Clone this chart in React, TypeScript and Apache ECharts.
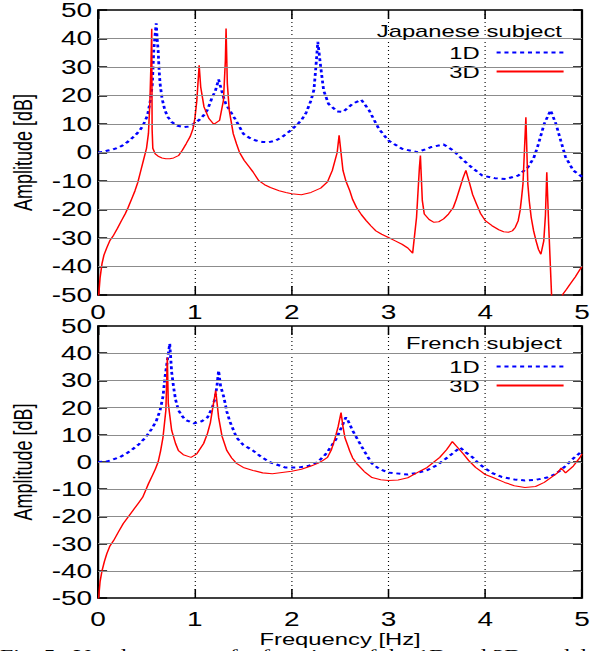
import React, { useEffect, useRef } from "react";
import * as echarts from "echarts";

// ---- data: [frequency in Hz, amplitude in dB] ----
const jp1D: [number, number][] = [[0,0],[0.05,0.2],[0.1,0.7],[0.15,1],[0.2,1.6],[0.25,2.4],[0.3,3.6],[0.35,5],[0.4,6.6],[0.43,7.8],[0.46,9.2],[0.51,13],[0.54,18.3],[0.56,24],[0.575,35.9],[0.585,40],[0.6,45.3],[0.61,40],[0.62,35.9],[0.63,29],[0.64,24.2],[0.66,19],[0.69,14.8],[0.72,12.5],[0.76,10.7],[0.82,9.4],[0.89,8.9],[0.94,9.1],[0.99,10.1],[1.04,11.3],[1.09,13],[1.13,15],[1.18,19.5],[1.21,21.5],[1.245,25.6],[1.27,22.5],[1.295,19.5],[1.32,17],[1.36,14.8],[1.42,11.5],[1.5,6.6],[1.56,5.2],[1.63,4.2],[1.7,3.7],[1.76,3.6],[1.83,4.1],[1.9,5.4],[1.95,6.7],[2.0,8],[2.05,9.6],[2.1,11.3],[2.15,14],[2.2,18.3],[2.23,22],[2.25,30],[2.27,38.8],[2.3,30],[2.33,21.8],[2.38,17.1],[2.47,14.4],[2.53,14.2],[2.63,17.1],[2.72,18.5],[2.8,14.8],[2.9,8.3],[3.0,4.2],[3.14,1.3],[3.3,0.1],[3.44,1.9],[3.57,2.8],[3.67,0.7],[3.77,-2.6],[3.87,-5.5],[3.97,-8.1],[4.1,-9],[4.21,-9.3],[4.34,-8.1],[4.44,-5.2],[4.5,-2],[4.54,1.9],[4.61,10.1],[4.675,14.8],[4.73,10.1],[4.78,4.2],[4.83,-1.6],[4.91,-6.3],[5.0,-8.5]];

const jp3D: [number, number][] = [[0,-58],[0.007,-49.6],[0.02,-44],[0.04,-39],[0.06,-36],[0.09,-33.4],[0.12,-31],[0.16,-29],[0.2,-26.6],[0.24,-24],[0.28,-21.5],[0.31,-19.3],[0.35,-16],[0.38,-13.5],[0.41,-10.5],[0.44,-6.5],[0.47,-2.5],[0.5,1.5],[0.52,6.7],[0.535,18],[0.545,30],[0.554,43.4],[0.558,8],[0.565,1.5],[0.59,-0.5],[0.62,-1.3],[0.66,-1.9],[0.7,-2.2],[0.74,-2.2],[0.78,-1.9],[0.83,-1.1],[0.87,0.8],[0.91,3.1],[0.95,5.5],[0.98,8.3],[1.0,12],[1.02,18.3],[1.044,30.6],[1.06,23],[1.094,16],[1.145,11.9],[1.195,9.9],[1.255,11.3],[1.295,18.3],[1.315,32.4],[1.322,43.5],[1.335,24.2],[1.355,14.8],[1.396,6.6],[1.43,3],[1.46,0.1],[1.51,-2.8],[1.56,-5],[1.6,-6.8],[1.66,-9.9],[1.72,-11.3],[1.78,-12.3],[1.87,-13.4],[1.94,-14],[2.0,-14.5],[2.1,-14.8],[2.2,-14],[2.3,-12.5],[2.37,-10.3],[2.42,-6.3],[2.47,0],[2.49,6],[2.53,-6.3],[2.56,-10],[2.6,-13.4],[2.63,-16.5],[2.67,-19.3],[2.72,-21.8],[2.77,-23.9],[2.82,-25.8],[2.87,-27.5],[2.93,-28.7],[3.0,-29.8],[3.07,-31],[3.14,-32.2],[3.2,-33.5],[3.25,-35.3],[3.29,-22.8],[3.32,-5.2],[3.33,-1.1],[3.35,-16.9],[3.37,-21.6],[3.42,-23.5],[3.47,-24.5],[3.52,-24.3],[3.57,-23.3],[3.62,-21.6],[3.67,-19.3],[3.7,-16.5],[3.74,-12.2],[3.77,-9],[3.8,-6.3],[3.84,-11],[3.87,-14.8],[3.91,-18.1],[3.95,-21.3],[4.0,-23.9],[4.07,-25.7],[4.14,-27.1],[4.19,-27.8],[4.24,-28],[4.28,-27.5],[4.31,-26.3],[4.34,-24],[4.36,-20.4],[4.375,-16],[4.39,-11],[4.42,12.4],[4.44,-11],[4.455,-17],[4.475,-22.8],[4.5,-27.5],[4.525,-31],[4.55,-34],[4.575,-35.7],[4.605,-31],[4.622,-22],[4.636,-6.9],[4.655,-25],[4.685,-49.7],[4.7,-65],[4.78,-65],[4.8,-49.8],[4.84,-48],[4.876,-46.2],[4.93,-43.7],[4.98,-41],[5.0,-40]];

const fr1D: [number, number][] = [[0,0],[0.05,0.1],[0.1,0.3],[0.22,1.7],[0.3,3.3],[0.35,4.5],[0.42,6.5],[0.49,9],[0.55,12],[0.6,15],[0.64,19],[0.67,24],[0.69,31],[0.71,36],[0.74,43.5],[0.76,33],[0.78,27.4],[0.8,23],[0.83,19],[0.87,16.8],[0.9,15.5],[0.99,14.2],[1.07,15],[1.13,16.4],[1.18,20],[1.21,23.7],[1.228,28],[1.245,33.6],[1.265,28],[1.3,23.7],[1.33,18.5],[1.36,15],[1.43,9],[1.5,6.3],[1.6,4.2],[1.68,2],[1.77,0],[1.93,-2],[2.07,-2],[2.17,-1.5],[2.27,0],[2.35,2.8],[2.4,5.3],[2.46,8.5],[2.5,11.6],[2.53,14],[2.56,16.4],[2.585,15],[2.63,11.5],[2.67,9],[2.75,4],[2.83,-0.6],[2.9,-2.4],[3.0,-3.9],[3.2,-4.6],[3.3,-4],[3.4,-3],[3.5,-1.2],[3.57,0.6],[3.65,2.8],[3.7,4.2],[3.74,5.3],[3.8,3.5],[3.87,1.7],[3.93,-0.5],[4.0,-2.4],[4.08,-4.2],[4.17,-5.5],[4.3,-6.4],[4.41,-6.8],[4.53,-6.5],[4.64,-5.7],[4.72,-4.5],[4.78,-3],[4.85,-0.8],[4.91,1.3],[5.0,4]];

const fr3D: [number, number][] = [[0,-58],[0.005,-50],[0.02,-44],[0.04,-40],[0.065,-36.5],[0.09,-33.7],[0.12,-31],[0.16,-28.9],[0.21,-25.7],[0.26,-22.6],[0.31,-20.2],[0.36,-17.8],[0.41,-15.4],[0.46,-13],[0.49,-10.5],[0.52,-8],[0.56,-5],[0.59,-2.7],[0.62,0],[0.645,4],[0.67,9],[0.7,19],[0.715,38.4],[0.725,21.5],[0.76,11.6],[0.8,6.8],[0.83,4.2],[0.88,2.7],[0.96,1.7],[1.02,3],[1.09,6.8],[1.13,10.5],[1.16,14.5],[1.18,19],[1.215,26.3],[1.245,16.4],[1.28,9.5],[1.33,4.2],[1.38,1.5],[1.43,-0.5],[1.5,-2],[1.6,-3.1],[1.7,-4],[1.8,-4.3],[2.0,-3.4],[2.1,-2.7],[2.2,-1.5],[2.27,-0.5],[2.32,0.5],[2.37,1.7],[2.41,4.5],[2.45,9],[2.48,13],[2.51,18.2],[2.53,13],[2.55,9],[2.58,6],[2.6,4],[2.63,1.5],[2.67,-0.5],[2.75,-3.5],[2.83,-5.7],[2.92,-6.5],[3.0,-6.8],[3.1,-6.6],[3.2,-5.8],[3.34,-3.1],[3.4,-2],[3.53,1.7],[3.6,4.5],[3.63,6],[3.66,7.5],[3.71,5.5],[3.77,3.1],[3.83,0.5],[3.9,-2],[3.96,-3.5],[4.0,-4.6],[4.08,-5.7],[4.2,-7.5],[4.3,-8.7],[4.41,-9.4],[4.52,-9],[4.61,-7.5],[4.74,-4.2],[4.785,-2.2],[4.83,-4],[4.91,-1.5],[4.98,1.7],[5.0,3]];

const seriesNames = ["1D", "3D"];
const panelTitles = ["Japanese subject", "French subject"];
const xName = "Frequency [Hz]";
const yName = "Amplitude [dB]";
const xMin = 0, xMax = 5, xStep = 1;
const yMin = -50, yMax = 50, yStep = 10;
const caption = "Fig. 5:  Vocal-tract transfer functions of the 1D and 3D models";

// ---- layout ----
const S = 1.4; // the reference figure is stretched horizontally
const PAGE_W = 594;
const PAGE_H = 651;
const W = PAGE_W / S;
const px = (v: number) => v / S;
const FONT = "'Liberation Sans', Arial, Helvetica, sans-serif";

const innerTicks = (min: number, max: number, step: number) => {
  const out: number[] = [];
  for (let v = min + step; v < max - step / 2; v += step) out.push(Math.round(v * 1e6) / 1e6);
  return out;
};

function buildOption() {
  const grids = [
    { top: 10, height: 285 },
    { top: 326, height: 272 },
  ];
  const grid = grids.map((g) => ({
    left: px(91),
    right: px(5),
    top: g.top,
    height: g.height,
    show: true,
    borderColor: "#000",
    borderWidth: 1.6,
    backgroundColor: "transparent",
  }));

  const tickStyle = (len: number, width: number) => ({
    inside: true,
    length: len,
    lineStyle: { color: "#000", width },
  });

  const xAxis: any[] = [];
  const yAxis: any[] = [];
  grids.forEach((_, i) => {
    xAxis.push({
      gridIndex: i, type: "value", min: xMin, max: xMax, interval: xStep, position: "bottom",
      axisLine: { show: false, onZero: false },
      axisTick: tickStyle(9, 1.1),
      axisLabel: { margin: i === 0 ? 7 : 11, fontSize: 20, color: "#000", fontFamily: FONT },
      splitLine: { show: false },
      name: i === 1 ? xName : "",
      nameLocation: "middle",
      nameGap: 29,
      nameTextStyle: { fontSize: 17, color: "#000", fontFamily: FONT },
    });
    xAxis.push({
      gridIndex: i, type: "value", min: xMin, max: xMax, interval: xStep, position: "top",
      axisLine: { show: false, onZero: false },
      axisTick: tickStyle(9, 1.1),
      axisLabel: { show: false },
      splitLine: { show: false },
    });
    yAxis.push({
      gridIndex: i, type: "value", min: yMin, max: yMax, interval: yStep, position: "left",
      axisLine: { show: false, onZero: false },
      axisTick: tickStyle(px(9), 1.5),
      axisLabel: { margin: px(6), fontSize: 20, color: "#000", fontFamily: FONT },
      splitLine: { show: false },
      name: yName,
      nameLocation: "middle",
      nameGap: 41,
      nameTextStyle: { fontSize: 18, color: "#000", fontFamily: FONT },
    });
    yAxis.push({
      gridIndex: i, type: "value", min: yMin, max: yMax, interval: yStep, position: "right",
      axisLine: { show: false, onZero: false },
      axisTick: tickStyle(px(9), 1.5),
      axisLabel: { show: false },
      splitLine: { show: false },
    });
  });

  const blue = "#0000ff";
  const red = "#ff0000";
  const mk = (name: string, axis: number, data: [number, number][], color: string, dashed: boolean) => ({
    name,
    type: "line",
    xAxisIndex: axis * 2,
    yAxisIndex: axis * 2,
    data,
    symbol: "none",
    showSymbol: false,
    clip: true,
    itemStyle: { color },
    lineStyle: dashed ? { color, width: 2, type: [2.9, 2.7] } : { color, width: 1.1, type: "solid" },
    z: dashed ? 3 : 4,
  });

  // grid lines at the interior ticks: vertical dotted; horizontal as a grey rule
  // (dash patterns on horizontal strokes are dropped under the horizontal stretch)
  const vStyle = { color: "#000", width: 0.8, type: [1, 3] };
  const hStyle = { color: "#8c8c8c", width: 1, type: "solid" };
  const gridSeries = (axis: number) => ({
    name: "grid",
    type: "line",
    xAxisIndex: axis * 2,
    yAxisIndex: axis * 2,
    data: [],
    silent: true,
    z: 1,
    markLine: {
      silent: true,
      symbol: ["none", "none"],
      label: { show: false },
      animation: false,
      data: [
        ...innerTicks(xMin, xMax, xStep).map((v) => ({ xAxis: v, lineStyle: vStyle })),
        ...innerTicks(yMin, yMax, yStep).map((v) => ({ yAxis: v, lineStyle: hStyle })),
      ],
    },
  });

  const series = [
    gridSeries(0),
    gridSeries(1),
    mk(seriesNames[0], 0, jp1D, blue, true),
    mk(seriesNames[1], 0, jp3D, red, false),
    mk(seriesNames[0], 1, fr1D, blue, true),
    mk(seriesNames[1], 1, fr3D, red, false),
  ];

  const titleTops = [22, 334];
  const legendTops = [44, 358];

  const title = panelTitles.map((t, i) => ({
    text: t,
    right: px(32),
    top: titleTops[i],
    padding: 0,
    textStyle: { fontSize: 17, fontWeight: "normal", color: "#000", fontFamily: FONT },
  }));

  const legend = legendTops.map((top) => ({
    top,
    right: px(29),
    orient: "vertical",
    align: "right",
    itemWidth: px(67),
    itemHeight: 14,
    itemGap: 2,
    padding: 0,
    selectedMode: false,
    data: seriesNames,
    itemStyle: { opacity: 0 },
    textStyle: { fontSize: 17, color: "#000", fontFamily: FONT, padding: [0, px(10), 0, 0] },
  }));

  return {
    animation: false,
    backgroundColor: "#fff",
    title,
    legend,
    grid,
    xAxis,
    yAxis,
    series,
    graphic: [
      {
        type: "text",
        left: 0,
        top: 647,
        style: { text: caption, font: "17px 'Liberation Serif', serif", fill: "#000" },
      },
    ],
  };
}

export default function App() {
  const ref = useRef<HTMLDivElement>(null);
  useEffect(() => {
    document.body.style.margin = "0";
    const chart = echarts.init(ref.current as HTMLDivElement, undefined, {
      renderer: "svg",
      width: W,
      height: PAGE_H,
    });
    chart.setOption(buildOption() as any);
    return () => chart.dispose();
  }, []);
  return (
    <div
      style={{
        position: "absolute",
        left: 0,
        top: 0,
        width: PAGE_W,
        height: PAGE_H,
        overflow: "hidden",
        background: "#fff",
      }}
    >
      <div
        ref={ref}
        style={{ width: W, height: PAGE_H, transform: `scaleX(${S})`, transformOrigin: "0 0" }}
      />
    </div>
  );
}
